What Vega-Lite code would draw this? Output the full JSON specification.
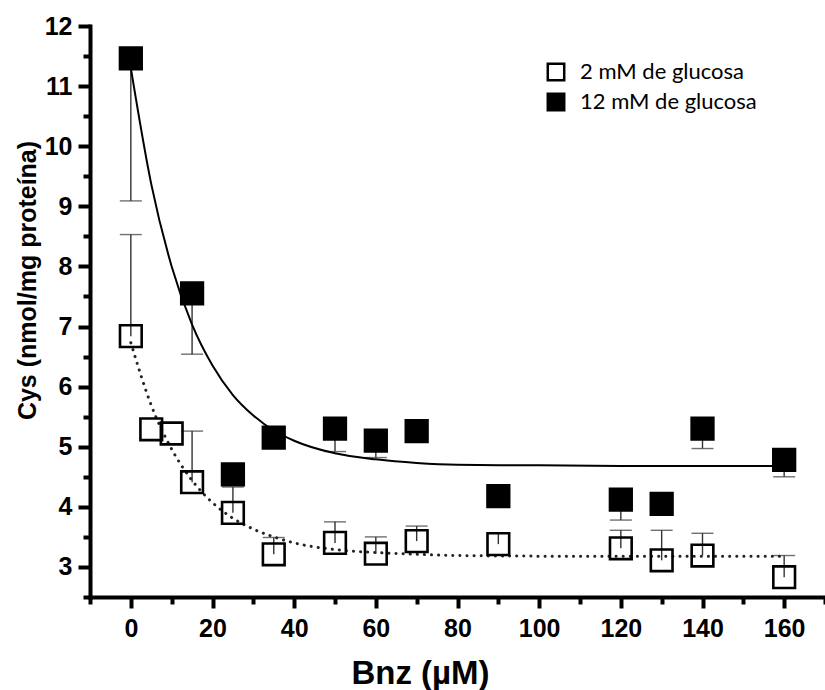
{
  "$schema": "https://vega.github.io/schema/vega-lite/v6.json",
  "width": 735,
  "height": 571,
  "autosize": {"type": "none"},
  "padding": {"left": 90, "top": 26, "right": 0, "bottom": 93},
  "background": "white",
  "config": {"view": {"stroke": null}, "font": "Liberation Sans"},
  "datasets": {
    "points": [
      {"grupo": "2 mM de glucosa", "bnz": 0, "cys": 6.84, "err": 8.53},
      {"grupo": "2 mM de glucosa", "bnz": 5, "cys": 5.29, "err": null},
      {"grupo": "2 mM de glucosa", "bnz": 10, "cys": 5.22, "err": null},
      {"grupo": "2 mM de glucosa", "bnz": 15, "cys": 4.41, "err": 5.26},
      {"grupo": "2 mM de glucosa", "bnz": 25, "cys": 3.9, "err": 4.33},
      {"grupo": "2 mM de glucosa", "bnz": 35, "cys": 3.21, "err": 3.49},
      {"grupo": "2 mM de glucosa", "bnz": 50, "cys": 3.4, "err": 3.75},
      {"grupo": "2 mM de glucosa", "bnz": 60, "cys": 3.22, "err": 3.5},
      {"grupo": "2 mM de glucosa", "bnz": 70, "cys": 3.43, "err": 3.68},
      {"grupo": "2 mM de glucosa", "bnz": 90, "cys": 3.38, "err": 3.57},
      {"grupo": "2 mM de glucosa", "bnz": 120, "cys": 3.31, "err": 3.61},
      {"grupo": "2 mM de glucosa", "bnz": 130, "cys": 3.11, "err": 3.61},
      {"grupo": "2 mM de glucosa", "bnz": 140, "cys": 3.19, "err": 3.56},
      {"grupo": "2 mM de glucosa", "bnz": 160, "cys": 2.83, "err": 3.19},
      {"grupo": "12 mM de glucosa", "bnz": 0, "cys": 11.46, "err": 9.09},
      {"grupo": "12 mM de glucosa", "bnz": 15, "cys": 7.55, "err": 6.54},
      {"grupo": "12 mM de glucosa", "bnz": 25, "cys": 4.54, "err": 4.36},
      {"grupo": "12 mM de glucosa", "bnz": 35, "cys": 5.15, "err": null},
      {"grupo": "12 mM de glucosa", "bnz": 50, "cys": 5.3, "err": 4.92},
      {"grupo": "12 mM de glucosa", "bnz": 60, "cys": 5.1, "err": 4.82},
      {"grupo": "12 mM de glucosa", "bnz": 70, "cys": 5.26, "err": null},
      {"grupo": "12 mM de glucosa", "bnz": 90, "cys": 4.18, "err": 4.0},
      {"grupo": "12 mM de glucosa", "bnz": 120, "cys": 4.12, "err": 3.78},
      {"grupo": "12 mM de glucosa", "bnz": 130, "cys": 4.05, "err": null},
      {"grupo": "12 mM de glucosa", "bnz": 140, "cys": 5.3, "err": 4.97},
      {"grupo": "12 mM de glucosa", "bnz": 160, "cys": 4.78, "err": 4.5}
    ],
    "curve12": [
      {"bnz": 0, "cys": 11.3}, {"bnz": 5, "cys": 9.37}, {"bnz": 10, "cys": 8.0},
      {"bnz": 15, "cys": 7.03}, {"bnz": 20, "cys": 6.35}, {"bnz": 25, "cys": 5.86},
      {"bnz": 30, "cys": 5.52}, {"bnz": 35, "cys": 5.27}, {"bnz": 40, "cys": 5.1},
      {"bnz": 50, "cys": 4.89}, {"bnz": 60, "cys": 4.79}, {"bnz": 70, "cys": 4.73},
      {"bnz": 80, "cys": 4.7}, {"bnz": 100, "cys": 4.69}, {"bnz": 120, "cys": 4.68},
      {"bnz": 160, "cys": 4.68}
    ],
    "curve2": [
      {"bnz": 0, "cys": 6.73}, {"bnz": 5, "cys": 5.69}, {"bnz": 10, "cys": 4.96},
      {"bnz": 15, "cys": 4.44}, {"bnz": 20, "cys": 4.07}, {"bnz": 25, "cys": 3.81},
      {"bnz": 30, "cys": 3.63}, {"bnz": 35, "cys": 3.5}, {"bnz": 40, "cys": 3.4},
      {"bnz": 50, "cys": 3.29}, {"bnz": 60, "cys": 3.24}, {"bnz": 70, "cys": 3.21},
      {"bnz": 80, "cys": 3.19}, {"bnz": 100, "cys": 3.18}, {"bnz": 160, "cys": 3.18}
    ]
  },
  "resolve": {"axis": {"x": "independent", "y": "independent"}},
  "layer": [
    {
      "data": {"name": "points"},
      "transform": [{"filter": "datum.err != null"}],
      "mark": {"type": "rule", "color": "#333", "strokeWidth": 1.4},
      "encoding": {
        "x": {"field": "bnz", "type": "quantitative", "scale": {"domain": [-10, 170], "nice": false, "zero": false},
          "axis": {"orient": "bottom", "values": [-10, 10, 30, 50, 70, 90, 110, 130, 150, 170], "labels": false, "domain": false, "grid": false, "tickSize": 7, "tickWidth": 4, "tickColor": "black", "title": null}},
        "y": {"field": "cys", "type": "quantitative", "scale": {"domain": [2.5, 12], "nice": false, "zero": false},
          "axis": {"orient": "left", "values": [2.5, 3.5, 4.5, 5.5, 6.5, 7.5, 8.5, 9.5, 10.5, 11.5], "labels": false, "domain": false, "grid": false, "tickSize": 7, "tickWidth": 4, "tickColor": "black", "title": null}},
        "y2": {"field": "err"}
      }
    },
    {
      "data": {"name": "points"},
      "transform": [{"filter": "datum.err != null"}],
      "mark": {"type": "tick", "orient": "horizontal", "size": 22, "thickness": 1.4, "color": "#333"},
      "encoding": {
        "x": {"field": "bnz", "type": "quantitative", "scale": {"domain": [-10, 170], "nice": false, "zero": false}, "axis": null},
        "y": {"field": "err", "type": "quantitative", "scale": {"domain": [2.5, 12], "nice": false, "zero": false}, "axis": null}
      }
    },
    {
      "data": {"name": "curve12"},
      "mark": {"type": "line", "color": "black", "strokeWidth": 2, "interpolate": "monotone"},
      "encoding": {
        "x": {"field": "bnz", "type": "quantitative", "scale": {"domain": [-10, 170], "nice": false, "zero": false}, "axis": null},
        "y": {"field": "cys", "type": "quantitative", "scale": {"domain": [2.5, 12], "nice": false, "zero": false}, "axis": null}
      }
    },
    {
      "data": {"name": "curve2"},
      "mark": {"type": "line", "color": "#222", "strokeWidth": 3, "strokeCap": "round", "strokeDash": [0.1, 7], "interpolate": "monotone"},
      "encoding": {
        "x": {"field": "bnz", "type": "quantitative", "scale": {"domain": [-10, 170], "nice": false, "zero": false}, "axis": null},
        "y": {"field": "cys", "type": "quantitative", "scale": {"domain": [2.5, 12], "nice": false, "zero": false}, "axis": null}
      }
    },
    {
      "data": {"name": "points"},
      "mark": {"type": "point", "shape": "square", "size": 470, "stroke": "black", "strokeWidth": 2.6, "filled": false, "opacity": 1},
      "encoding": {
        "x": {"field": "bnz", "type": "quantitative", "scale": {"domain": [-10, 170], "nice": false, "zero": false},
          "axis": {"orient": "bottom", "values": [0, 20, 40, 60, 80, 100, 120, 140, 160], "domainWidth": 4, "domainColor": "black", "domainCap": "square", "grid": false,
            "tickSize": 11, "tickWidth": 4, "tickColor": "black", "labelFont": "Liberation Sans", "labelFontWeight": "bold", "labelFontSize": 25, "labelColor": "black", "labelPadding": 8,
            "title": "Bnz (µM)", "titleFont": "Liberation Sans", "titleFontWeight": "bold", "titleFontSize": 33, "titleColor": "black", "titleX": 330, "titleY": 86, "titleBaseline": "alphabetic", "titleAnchor": "middle"}},
        "y": {"field": "cys", "type": "quantitative", "scale": {"domain": [2.5, 12], "nice": false, "zero": false},
          "axis": {"orient": "left", "values": [3, 4, 5, 6, 7, 8, 9, 10, 11, 12], "domainWidth": 4, "domainColor": "black", "domainCap": "square", "grid": false,
            "tickSize": 12, "tickWidth": 4, "tickColor": "black", "labelFont": "Liberation Sans", "labelFontWeight": "bold", "labelFontSize": 25, "labelColor": "black", "labelPadding": 6,
            "title": "Cys (nmol/mg proteína)", "titleFont": "Liberation Sans", "titleFontWeight": "bold", "titleFontSize": 25, "titleColor": "black", "titleX": -63, "titleY": 254, "titleAngle": -90, "titleBaseline": "middle", "titleAlign": "center"}},
        "fill": {"field": "grupo", "type": "nominal",
          "scale": {"domain": ["2 mM de glucosa", "12 mM de glucosa"], "range": ["transparent", "black"]},
          "legend": {"orient": "none", "legendX": 455, "legendY": 35, "title": null, "symbolType": "square", "symbolSize": 270, "symbolStrokeColor": "black", "symbolStrokeWidth": 2.5,
            "labelFont": "Lato", "labelFontSize": 22, "labelColor": "black", "labelLimit": 400, "rowPadding": 2, "labelOffset": 13}}
      }
    }
  ]
}
